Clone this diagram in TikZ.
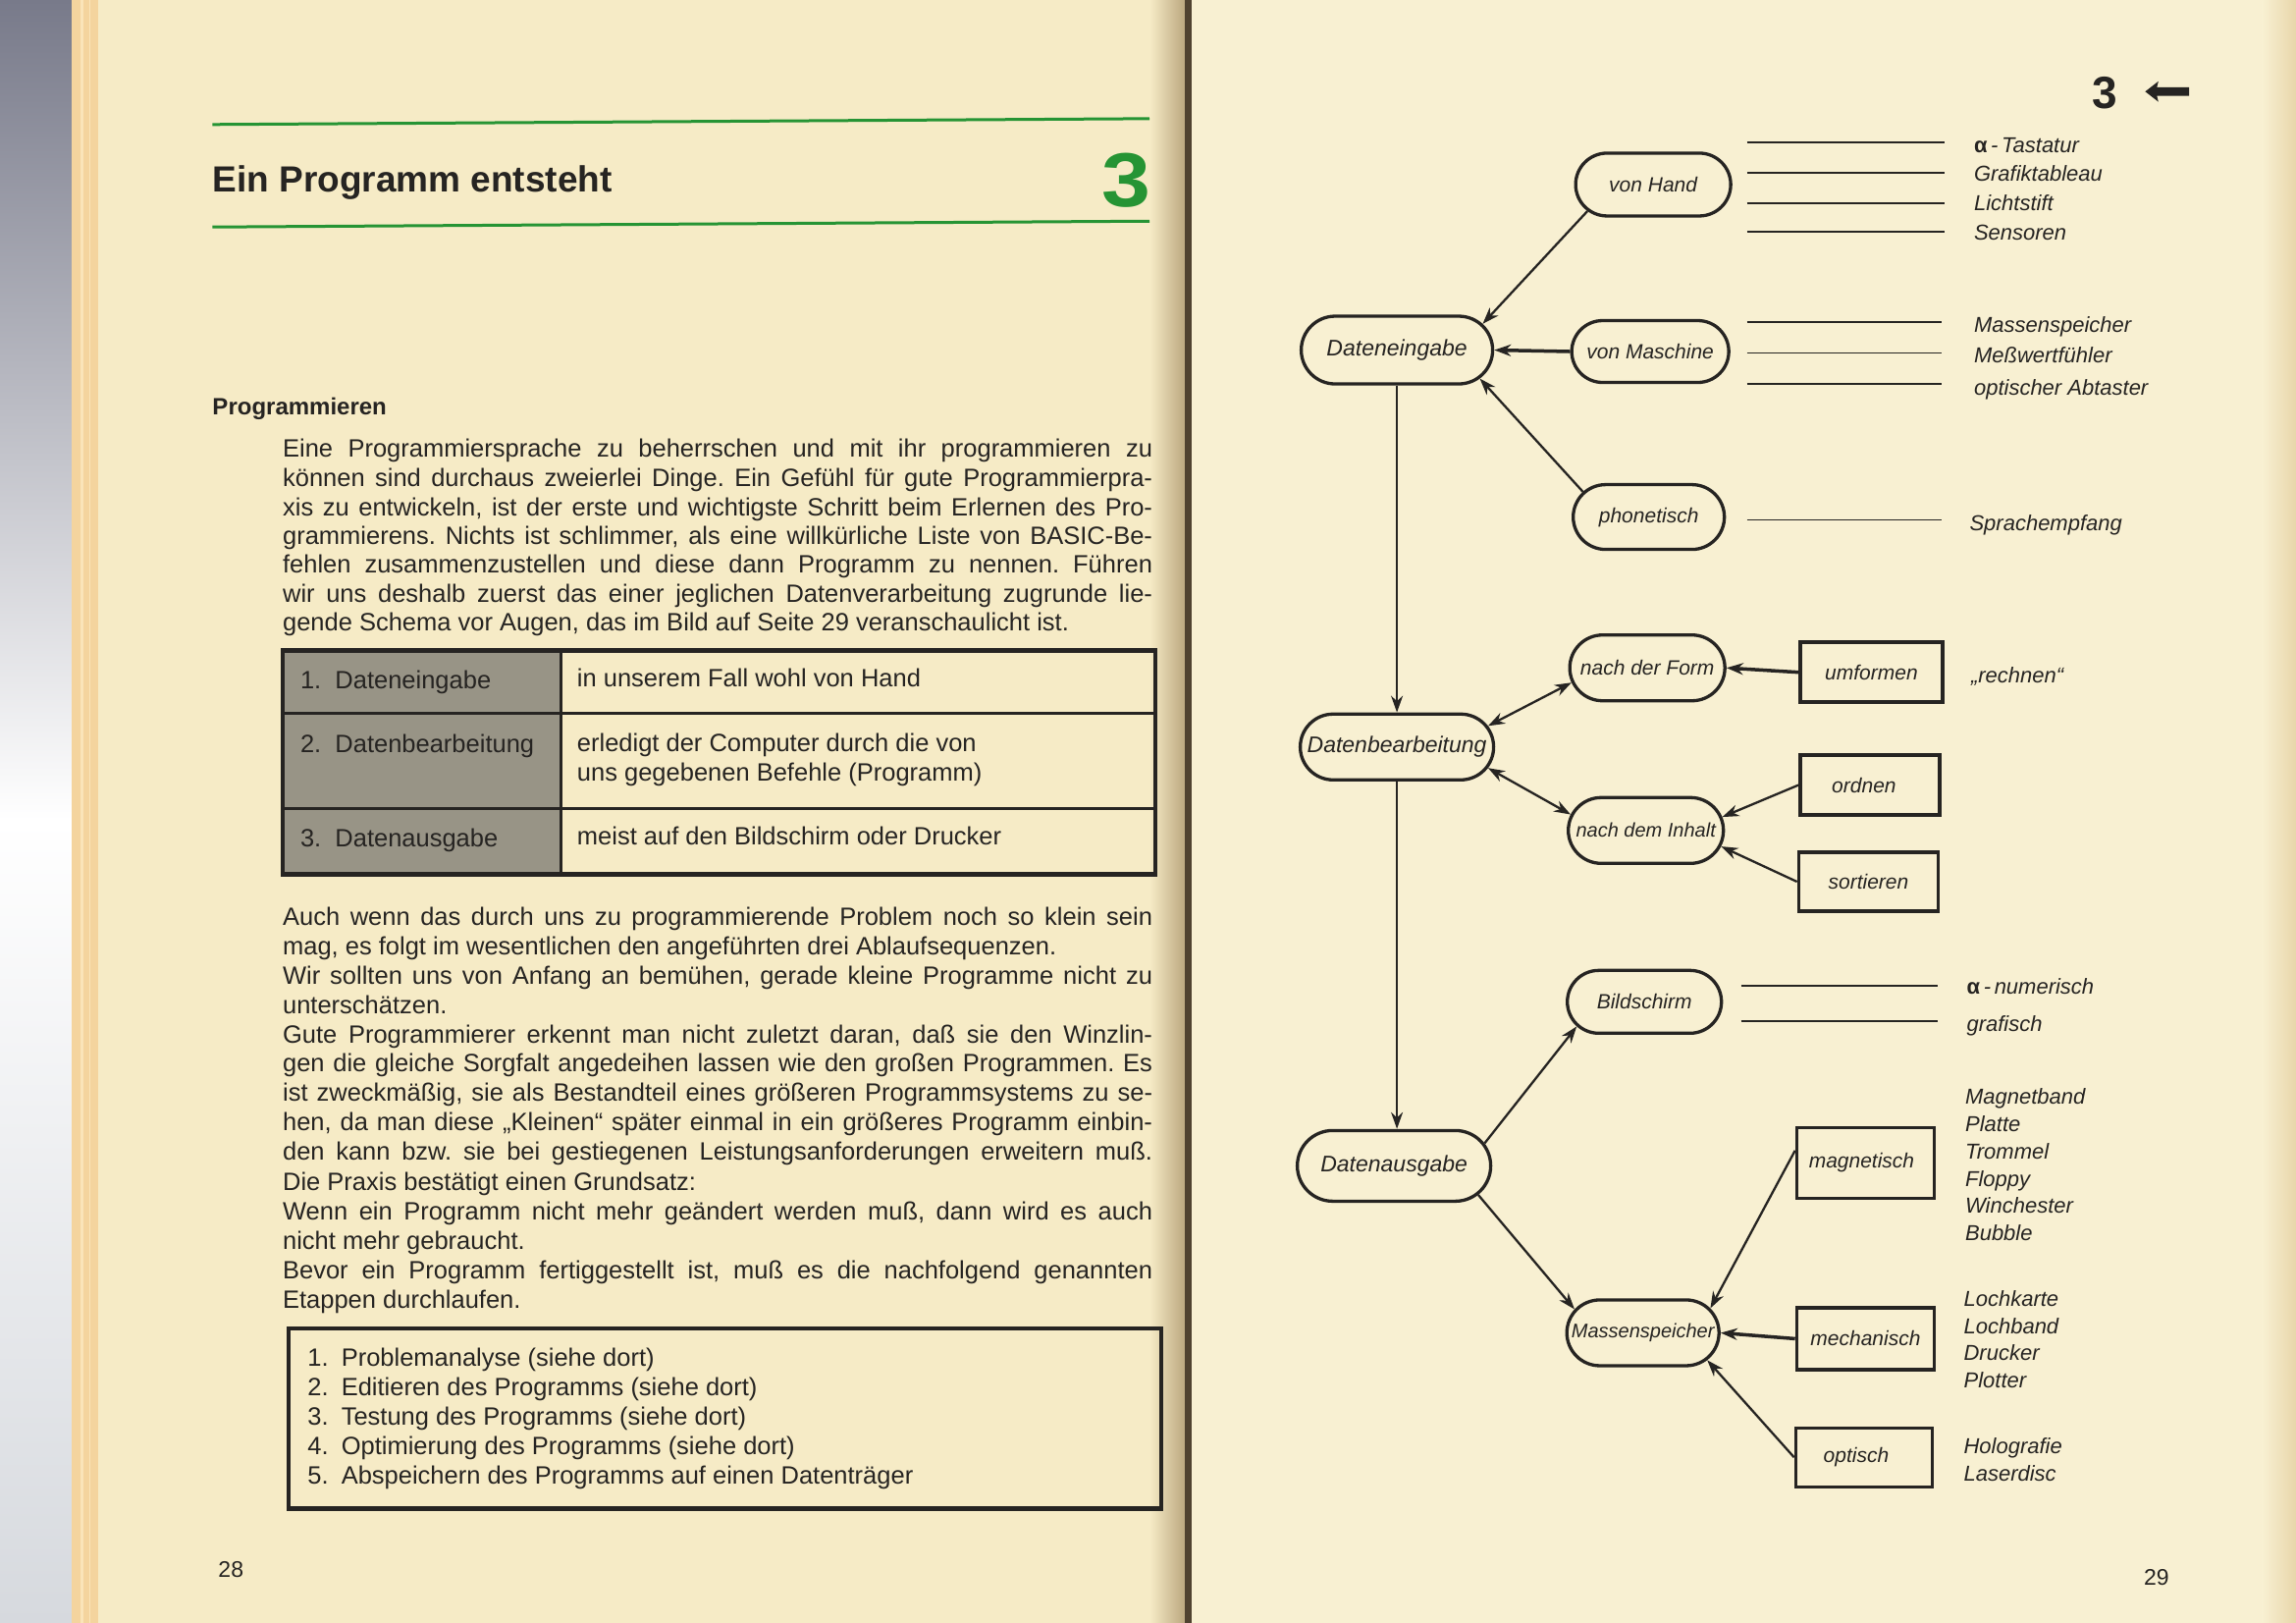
\documentclass[tikz,border=0pt]{standalone}
\usepackage{fontspec}
\setmainfont{Liberation Sans}
\usetikzlibrary{shapes.misc,arrows.meta}
\frenchspacing
\definecolor{ink}{RGB}{38,36,34}
\definecolor{creamL}{RGB}{246,235,198}
\definecolor{creamR}{RGB}{248,240,210}
\definecolor{edgeo}{RGB}{244,212,158}
\definecolor{edgel}{RGB}{250,228,185}
\definecolor{gutter}{RGB}{188,168,128}
\definecolor{gutdark}{RGB}{80,66,48}
\definecolor{rightedge}{RGB}{232,214,170}
\definecolor{bookgreen}{RGB}{38,148,52}
\definecolor{shadecell}{RGB}{152,148,134}
\definecolor{graytop}{RGB}{120,122,138}
\definecolor{graybot}{RGB}{214,217,222}
\newcommand\bodyfont{\fontsize{25.5pt}{30pt}\selectfont}
\newcommand\nodefont{\fontsize{21pt}{24pt}\selectfont\itshape}
\newcommand\smallnodefont{\fontsize{20pt}{24pt}\selectfont\itshape}
\newcommand\bignodefont{\fontsize{23pt}{26pt}\selectfont\itshape}
\newcommand\labfont{\fontsize{22pt}{26pt}\selectfont\itshape}
\newcommand\JL[3]{\node[txt] (#1) at (193,#2) {\makebox[886pt][s]{#3}};}
\newcommand\LL[3]{\node[txt] (#1) at (193,#2) {#3};}
\newcommand\zb[1]{\makebox[0pt]{#1}}
\tikzset{
  txt/.style={anchor=base west,inner sep=0pt,font=\bodyfont,text=ink},
  pill/.style={rounded rectangle,draw=ink,line width=3.3pt,inner xsep=0pt,inner ysep=1pt,minimum height=66pt,font=\nodefont,text=ink},
  bigpill/.style={pill,font=\bignodefont,minimum height=69pt},
  sbox/.style={rectangle,draw=ink,line width=3.5pt,inner sep=1pt,font=\nodefont,text=ink},
  lab/.style={anchor=base west,inner sep=0pt,font=\labfont,text=ink},
  conn/.style={draw=ink,line width=2.3pt},
  arr/.style={conn,-{Stealth[length=17pt,width=12pt]}},
  darr/.style={conn,{Stealth[length=17pt,width=12pt]}-{Stealth[length=17pt,width=12pt]}},
  thinline/.style={draw=ink,line width=1.8pt},
  greenrule/.style={draw=bookgreen,line width=3pt}
}
\begin{document}
\begin{tikzpicture}[x=1.4917pt,y=-1.4917pt]
\useasboundingbox (0,0) rectangle (1568,1108);
% ---------- backgrounds ----------
\fill[creamL] (0,0) rectangle (814,1108);
\fill[creamR] (814,0) rectangle (1568,1108);
\shade[top color=graytop,bottom color=white] (0,0) rectangle (49,560);
\shade[top color=white,bottom color=graybot] (0,560) rectangle (49,1108);
\fill[edgeo] (49,0) rectangle (67,1108);
\fill[edgel] (55,0) rectangle (57,1108);
\fill[edgel] (61,0) rectangle (62,1108);
\shade[left color=creamL,right color=gutter] (785,0) rectangle (809,1108);
\fill[gutdark] (809,0) rectangle (814,1108);
\shade[left color=creamR,right color=rightedge] (1545,0) rectangle (1568,1108);
% ---------- left page ----------
\draw[greenrule] (145,85) -- (785,81);
\draw[greenrule] (145,155) -- (785,151);
\node[anchor=base west,inner sep=0pt,font=\fontsize{37pt}{40pt}\selectfont\bfseries,text=ink] (title) at (145,131) {Ein Programm entsteht};
\node[anchor=base east,inner sep=0pt,font=\fontsize{78pt}{80pt}\selectfont\bfseries,text=bookgreen] (chap) at (786,141) {\scalebox{1.15}[1]{3}};
\node[anchor=base west,inner sep=0pt,font=\fontsize{24pt}{28pt}\selectfont\bfseries,text=ink] (sub) at (145,283) {Programmieren};
\JL{p1}{312}{Eine Programmiersprache zu beherrschen und mit ihr programmieren zu}
\JL{p2}{332}{können sind durchaus zweierlei Dinge. Ein Gefühl für gute Programmierpra-}
\JL{p3}{352}{xis zu entwickeln, ist der erste und wichtigste Schritt beim Erlernen des Pro-}
\JL{p4}{371.5}{grammierens. Nichts ist schlimmer, als eine willkürliche Liste von BASIC-Be-}
\JL{p5}{391}{fehlen zusammenzustellen und diese dann Programm zu nennen. Führen}
\JL{p6}{411}{wir uns deshalb zuerst das einer jeglichen Datenverarbeitung zugrunde lie-}
\LL{p7}{431}{gende Schema vor Augen, das im Bild auf Seite 29 veranschaulicht ist.}
% table
\fill[shadecell] (193,444) rectangle (383,597);
\draw[ink,line width=3.5pt] (383,444) -- (383,597);
\draw[ink,line width=3.5pt] (193,487) -- (789,487);
\draw[ink,line width=3.5pt] (193,552) -- (789,552);
\draw[ink,line width=4.5pt] (193,444) rectangle (789,597);
\node[txt] (r1a) at (205,470) {1.\ \ Dateneingabe};
\node[txt] (r1b) at (394,469) {in unserem Fall wohl von Hand};
\node[txt] (r2a) at (205,514) {2.\ \ Datenbearbeitung};
\node[txt] (r2b) at (394,513) {erledigt der Computer durch die von};
\node[txt] (r2c) at (394,533) {uns gegebenen Befehle (Programm)};
\node[txt] (r3a) at (205,578) {3.\ \ Datenausgabe};
\node[txt] (r3b) at (394,577) {meist auf den Bildschirm oder Drucker};
% paragraph 2
\JL{q1}{632}{Auch wenn das durch uns zu programmierende Problem noch so klein sein}
\LL{q2}{652}{mag, es folgt im wesentlichen den angeführten drei Ablaufsequenzen.}
\JL{q3}{672}{Wir sollten uns von Anfang an bemühen, gerade kleine Programme nicht zu}
\LL{q4}{692}{unterschätzen.}
\JL{q5}{712}{Gute Programmierer erkennt man nicht zuletzt daran, daß sie den Winzlin-}
\JL{q6}{732}{gen die gleiche Sorgfalt angedeihen lassen wie den großen Programmen. Es}
\JL{q7}{752}{ist zweckmäßig, sie als Bestandteil eines größeren Programmsystems zu se-}
\JL{q8}{772}{hen, da man diese „Kleinen“ später einmal in ein größeres Programm einbin-}
\JL{q9}{792}{den kann bzw. sie bei gestiegenen Leistungsanforderungen erweitern muß.}
\LL{q10}{813}{Die Praxis bestätigt einen Grundsatz:}
\JL{q11}{833}{Wenn ein Programm nicht mehr geändert werden muß, dann wird es auch}
\LL{q12}{853}{nicht mehr gebraucht.}
\JL{q13}{873}{Bevor ein Programm fertiggestellt ist, muß es die nachfolgend genannten}
\LL{q14}{893}{Etappen durchlaufen.}
% list box
\draw[ink,line width=4.5pt] (197,907) rectangle (793,1030);
\foreach \t [count=\i] in {Problemanalyse (siehe dort),Editieren des Programms (siehe dort),Testung des Programms (siehe dort),Optimierung des Programms (siehe dort),Abspeichern des Programms auf einen Datenträger}{
  \node[txt] (n\i) at (210,{913+20*\i}) {\i.};
  \node[txt] (s\i) at (233,{913+20*\i}) {\t};
}
\node[txt,font=\fontsize{23pt}{26pt}\selectfont] (pg28) at (149,1077) {28};
% ---------- right page ----------
\node[anchor=base west,inner sep=0pt,font=\fontsize{46pt}{48pt}\selectfont\bfseries,text=ink] (chapR) at (1429,74) {3};
\fill[ink] (1465,62.5) -- (1474,55.5) -- (1473,59.5) -- (1495,59.5) -- (1495,65.5) -- (1473,65.5) -- (1474,69.5) -- cycle;
% nodes
\node[pill,minimum width=158pt,minimum height=64pt] (vh) at (1129,126) {\zb{von Hand}};
\node[bigpill,minimum width=195pt] (de) at (954,239) {\zb{Dateneingabe}};
\node[pill,minimum width=160pt,minimum height=63pt] (vm) at (1127,240) {\zb{von Maschine}};
\node[pill,minimum width=154pt] (ph) at (1126,353) {\zb{phonetisch}};
\node[pill,minimum width=158pt,minimum height=67pt] (nf) at (1125,456) {\zb{nach der Form}};
\node[sbox,minimum width=145pt,minimum height=61pt] (uf) at (1278,459) {umformen};
\node[bigpill,minimum width=197pt,minimum height=67pt] (db) at (954,510) {\zb{Datenbearbeitung}};
\node[sbox,minimum width=142pt,minimum height=61pt] (ord) at (1277,536) {\hspace*{-12pt}ordnen};
\node[pill,minimum width=158pt,minimum height=67pt,font=\smallnodefont] (ni) at (1124,567) {\zb{nach dem Inhalt}};
\node[sbox,minimum width=142pt,minimum height=60pt] (sor) at (1276,602) {sortieren};
\node[pill,minimum width=157pt,minimum height=64pt] (bs) at (1123,684) {\zb{Bildschirm}};
\node[bigpill,minimum width=197pt,minimum height=72pt] (da) at (952,796) {\zb{Datenausgabe}};
\node[sbox,minimum width=140pt,minimum height=72pt] (mg) at (1274,794) {\hspace*{-8pt}magnetisch};
\node[pill,minimum width=155pt,minimum height=67pt,font=\smallnodefont] (ms) at (1122,910) {\zb{Massenspeicher}};
\node[sbox,minimum width=140pt,minimum height=63pt] (me) at (1274,914) {mechanisch};
\node[sbox,minimum width=139pt,minimum height=60pt] (op) at (1273,995) {\hspace*{-16pt}optisch};
% connectors
\draw[arr] (vh.202) -- (de.17);
\draw[arr,line width=3.5pt] (vm.west) -- (de.east);
\draw[arr] (ph.159) -- (de.341);
\draw[arr] (de.south) -- (db.north);
\draw[darr] (db.13) -- (nf.191);
\draw[arr,line width=3.5pt] (uf.west) -- (nf.east);
\draw[darr] (db.347) -- (ni.168);
\draw[arr] (ord.west) -- (ni.10);
\draw[arr] (sor.west) -- (ni.348);
\draw[arr] (db.south) -- (db.south |- da.north);
\draw[arr] (da.14) -- (bs.200);
\draw[arr] (da.341) -- (ms.161);
\draw[arr] (mg.170) -- (ms.20);
\draw[arr,line width=3.5pt] (me.west) -- (ms.east);
\draw[arr] (op.west) -- (ms.337);
% plain lines
\foreach \y in {97,118,139,158} \draw[thinline] (1193,\y) -- (1328,\y);
\foreach \y in {220,241,262} \draw[thinline] (1193,\y) -- (1326,\y);
\draw[thinline] (1193,355) -- (1326,355);
\foreach \y in {673,697} \draw[thinline] (1189,\y) -- (1323,\y);
% labels
\node[lab] (la1) at (1348,104) {{\upshape\bfseries α}\,-\,Tastatur};
\node[lab] (la2) at (1348,124) {Grafiktableau};
\node[lab] (la3) at (1348,144) {Lichtstift};
\node[lab] (la4) at (1348,164) {Sensoren};
\node[lab] (lb1) at (1348,227) {Massenspeicher};
\node[lab] (lb2) at (1348,248) {Meßwertfühler};
\node[lab] (lb3) at (1348,270) {optischer Abtaster};
\node[lab] (lc1) at (1345,362) {Sprachempfang};
\node[lab] (ld1) at (1346,466) {„rechnen“};
\node[lab] (le1) at (1343,679) {{\upshape\bfseries α}\,-\,numerisch};
\node[lab] (le2) at (1343,704) {grafisch};
\foreach \t [count=\i] in {Magnetband,Platte,Trommel,Floppy,Winchester,Bubble}
  \node[lab] (lf\i) at (1342,{735+18.7*\i}) {\t};
\foreach \t [count=\i] in {Lochkarte,Lochband,Drucker,Plotter}
  \node[lab] (lg\i) at (1341,{873+18.7*\i}) {\t};
\foreach \t [count=\i] in {Holografie,Laserdisc}
  \node[lab] (lh\i) at (1341,{974+18.5*\i}) {\t};
\node[txt,font=\fontsize{23pt}{26pt}\selectfont] (pg29) at (1464,1082) {29};
\end{tikzpicture}
\end{document}
